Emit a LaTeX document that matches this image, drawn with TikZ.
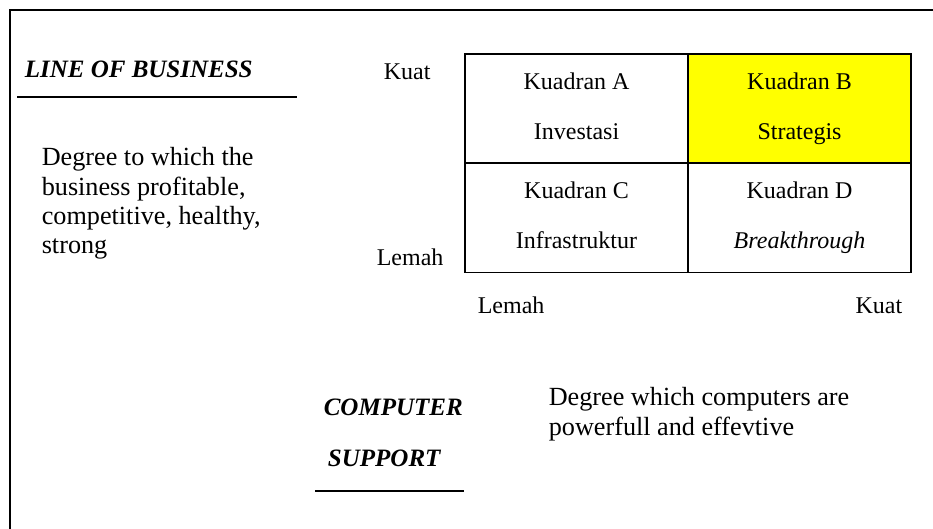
\documentclass[tikz,border=0pt]{standalone}
\usepackage{fontspec}
\setmainfont{Liberation Serif}
\definecolor{quadyellow}{RGB}{255,255,0}

\begin{document}
\begin{tikzpicture}[x=1pt, y=-1pt, line width=1.6pt,
                every node/.style={inner sep=0pt, font=\fontsize{24}{50}\selectfont},
                cell/.style={draw=black, minimum width=223pt, minimum height=109pt, align=center},
                heading/.style={font=\fontsize{25}{51}\selectfont\bfseries\itshape, align=left},
                note/.style={font=\fontsize{26.2}{29.3}\selectfont, align=left}]

                \useasboundingbox (0,0) rectangle (933,529);

                % Frame
                \draw (933,10) -- (10,10) -- (10,529);

                % Quadrants
                \node[cell] (A) at (576.5,108.5) {Kuadran A\vphantom{Kg}\\Investasi\vphantom{Kg}};
                \node[cell, fill=quadyellow] (B) at (799.5,108.5) {Kuadran B\vphantom{Kg}\\Strategis\vphantom{Kg}};
                \node[cell] (C) at (576.5,218) {Kuadran C\vphantom{Kg}\\Infrastruktur\vphantom{Kg}};
                \node[cell] (D) at (799.5,218) {Kuadran D\vphantom{Kg}\\\textit{Breakthrough}\vphantom{Kg}};

                % Axis labels
                \node[anchor=base west] (ykuat) at (383,80) {Kuat}; % top left
                \node[anchor=base west] (ylemah) at (376,265) {Lemah}; % bottom left
                \node[anchor=base west] (xlemah) at (477,313) {Lemah}; % below left
                \node[anchor=base east] (xkuat) at (903,313) {Kuat}; % below right

                % Headings
                \node[heading, anchor=base west] (lob) at (24,78) {LINE OF BUSINESS};
                \draw (17,97) -- (297,97);
                \node[heading, anchor=north west] (cs) at (323,398) {COMPUTER\\\,SUPPORT};
                \draw (315,491) -- (464,491);

                % Notes
                \node[note, anchor=north west] (lobnote) at (41,147) {Degree to which the\\business profitable,\\competitive, healthy,\\strong};
                \node[note, anchor=north west] (csnote) at (548,387) {Degree which computers are\\powerfull and effevtive};
\end{tikzpicture}
\end{document}
